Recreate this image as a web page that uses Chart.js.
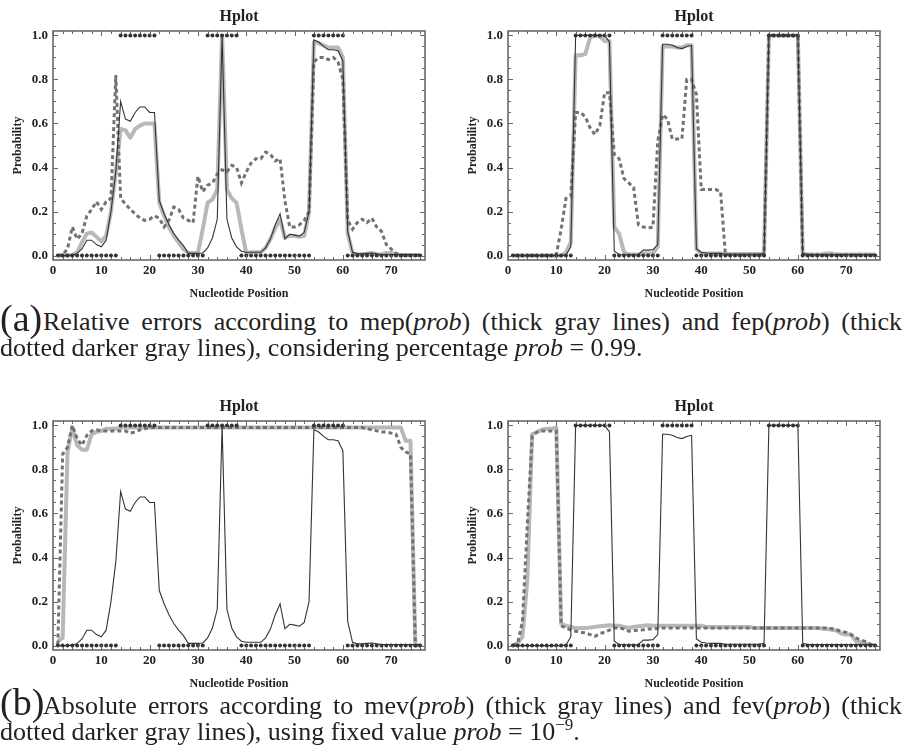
<!DOCTYPE html>
<html>
<head>
<meta charset="utf-8">
<script src="https://cdn.jsdelivr.net/npm/chart.js@4.4.0/dist/chart.umd.min.js"></script>
<style>
  html, body { margin:0; padding:0; background:#fff; width:904px; height:754px; overflow:hidden; }
  canvas { position:absolute; }
  .lab { position:absolute; font-family:'Liberation Serif', serif; font-size:38px; line-height:1; color:#222; white-space:nowrap; }
  .cap { position:absolute; font-family:'Liberation Serif', serif; font-size:26px; line-height:1; color:#222; }
  .j { text-align:justify; text-align-last:justify; }
  .cap sup { font-size:17px; vertical-align:10px; line-height:0; }
</style>
</head>
<body>
<canvas id="c1" width="450" height="305" style="left:0;top:0"></canvas>
<canvas id="c2" width="449" height="305" style="left:455px;top:0"></canvas>
<canvas id="c3" width="450" height="305" style="left:0;top:390px"></canvas>
<canvas id="c4" width="449" height="305" style="left:455px;top:390px"></canvas>

<div class="lab" style="left:0;top:299px">(a)</div>
<div class="cap j" style="left:43px;top:309px;width:859px">Relative errors according to mep(<i>prob</i>) (thick gray lines) and fep(<i>prob</i>) (thick</div>
<div class="cap" style="left:0;top:335px;white-space:nowrap">dotted darker gray lines), considering percentage <i>prob</i> = 0.99.</div>

<div class="lab" style="left:0;top:683px">(b)</div>
<div class="cap j" style="left:43px;top:693px;width:859px">Absolute errors according to mev(<i>prob</i>) (thick gray lines) and fev(<i>prob</i>) (thick</div>
<div class="cap" style="left:0;top:719px;white-space:nowrap">dotted darker gray lines), using fixed value <i>prob</i> = 10<sup>−9</sup>.</div>

<script>
// ---------- data ----------
const positions = [1,2,3,4,5,6,7,8,9,10,11,12,13,14,15,16,17,18,19,20,21,22,23,24,25,26,27,28,29,30,31,32,33,34,35,36,37,38,39,40,41,42,43,44,45,46,47,48,49,50,51,52,53,54,55,56,57,58,59,60,61,62,63,64,65,66,67,68,69,70,71,72,73,74,75,76];

// secondary structure indicator (dots at 0 or 1)
const structure = [0,0,0,0,0,0,0,0,0,0,0,0,0, 1,1,1,1,1,1,1,1, 0,0,0,0,0,0,0,0,0,0, 1,1,1,1,1,1,1, 0,0,0,0,0,0,0,0,0,0,0,0,0,0,0, 1,1,1,1,1,1,1, 0,0,0,0,0,0,0,0,0,0,0,0,0,0,0,0];

// thin black line, left column (a) and (b)
const probLeft = [0,0,0,0.002,0.01,0.03,0.07,0.07,0.05,0.04, 0.07,0.2,0.38,0.70,0.62,0.61,0.65,0.675,0.675,0.65, 0.65,0.25,0.19,0.14,0.1,0.07,0.045,0.01,0.01,0.01, 0.012,0.035,0.08,0.165,1.0,0.165,0.08,0.04,0.02,0.015, 0.015,0.015,0.015,0.035,0.075,0.14,0.19,0.077,0.097,0.093, 0.088,0.105,0.2,0.98,0.97,0.95,0.935,0.935,0.93,0.885, 0.11,0.015,0.008,0.008,0.01,0.012,0.008,0.005,0.005,0.005, 0.005,0.005,0.005,0.005,0.005,0.005];

// thin black line, right column (a) and (b)
const probRight = [0,0,0,0,0,0,0,0,0,0, 0,0.003,0.04,1.0,1.0,1.0,1.0,1.0,1.0,1.0, 0.97,0.02,0.005,0.004,0.004,0.004,0.005,0.025,0.025,0.027, 0.05,0.96,0.96,0.955,0.945,0.94,0.95,0.955,0.03,0.015, 0.012,0.01,0.01,0.01,0.006,0.006,0.006,0.006,0.006,0.006, 0.006,0.006,0.01,1.0,1.0,1.0,1.0,1.0,1.0,1.0, 0.01,0.005,0.005,0.005,0.005,0.005,0.005,0.005,0.005,0.005, 0.005,0.005,0.005,0.005,0.005,0.005];

// (a) left: mep (thick gray) and fep (dotted)
const mepLeft = [0,0,0,0.003,0.015,0.06,0.1,0.105,0.085,0.065, 0.09,0.2,0.38,0.575,0.57,0.535,0.575,0.59,0.6,0.6, 0.6,0.24,0.18,0.13,0.09,0.06,0.03,0.012,0.012,0.012, 0.12,0.24,0.255,0.3,1.0,0.3,0.26,0.24,0.12,0.012, 0.015,0.015,0.015,0.035,0.075,0.125,0.165,0.08,0.09,0.09, 0.085,0.09,0.2,0.97,0.965,0.955,0.945,0.945,0.945,0.9, 0.1,0.012,0.006,0.006,0.008,0.012,0.006,0.005,0.012,0.012, 0.006,0.003,0.003,0.003,0.003,0.003];
const fepLeft = [0,0.005,0.03,0.13,0.075,0.1,0.18,0.21,0.245,0.21, 0.245,0.26,0.82,0.26,0.235,0.21,0.19,0.17,0.16,0.165, 0.18,0.17,0.13,0.16,0.22,0.21,0.17,0.16,0.15,0.36, 0.29,0.32,0.33,0.37,0.39,0.38,0.41,0.4,0.33,0.38, 0.42,0.44,0.44,0.47,0.46,0.43,0.44,0.25,0.13,0.13, 0.14,0.16,0.2,0.88,0.9,0.9,0.89,0.9,0.88,0.8, 0.16,0.12,0.15,0.165,0.15,0.17,0.13,0.11,0.05,0.03, 0.01,0.003,0,0,0,0];

// (a) right
const mepRight = [0,0,0,0,0,0,0,0,0,0, 0,0.015,0.06,0.91,0.91,0.915,0.99,1.0,0.995,0.975, 0.975,0.13,0.1,0.015,0.005,0.005,0.005,0.01,0.01,0.01, 0.04,0.95,0.95,0.95,0.945,0.945,0.955,0.955,0.03,0.01, 0.01,0.01,0.01,0.01,0.007,0.007,0.007,0.007,0.007,0.007, 0.007,0.007,0.007,1.0,1.0,1.0,1.0,1.0,1.0,1.0, 0.01,0.005,0.005,0.005,0.005,0.01,0.01,0.005,0.005,0.005, 0.005,0.005,0.005,0.005,0.005,0.005];
const fepRight = [0,0,0,0,0,0,0,0,0,0.005, 0.12,0.26,0.27,0.65,0.65,0.63,0.58,0.55,0.59,0.74, 0.74,0.46,0.44,0.35,0.33,0.31,0.14,0.13,0.125,0.13, 0.52,0.64,0.62,0.53,0.53,0.53,0.8,0.8,0.73,0.3, 0.3,0.3,0.3,0.29,0.005,0.003,0.003,0.003,0.003,0.003, 0.003,0.003,0.003,1.0,1.0,1.0,1.0,1.0,1.0,1.0, 0.005,0.003,0.003,0.003,0.003,0.003,0.003,0.003,0.003,0.003, 0.003,0.003,0.003,0.003,0.003,0.003];

// (b) left: mev (thick gray) and fev (dotted)
const mevLeft = [0.02,0.035,0.88,0.99,0.91,0.89,0.89,0.96,0.97,0.975, 0.985,0.985,0.985,0.99,0.99,0.99,0.99,0.99,0.99,0.99, 0.99,0.99,0.99,0.99,0.99,0.99,0.99,0.99,0.99,0.99, 0.99,0.99,0.99,0.99,0.99,0.99,0.99,0.99,0.99,0.99, 0.99,0.99,0.99,0.99,0.99,0.99,0.99,0.99,0.99,0.99, 0.99,0.99,0.99,0.99,0.99,0.99,0.99,0.99,0.99,0.99, 0.99,0.99,0.99,0.99,0.99,0.99,0.99,0.99,0.99,0.99, 0.99,0.99,0.93,0.93,0,0];
const fevLeft = [0.005,0.87,0.9,1.0,0.94,0.91,0.955,0.975,0.98,0.975, 0.975,0.975,0.975,0.975,0.975,0.965,0.97,0.98,0.985,0.99, 0.99,0.99,0.99,0.99,0.99,0.99,0.99,0.99,0.99,0.99, 0.99,0.99,0.99,0.99,0.99,0.99,0.99,0.99,0.99,0.99, 0.99,0.99,0.99,0.99,0.99,0.99,0.99,0.99,0.99,0.99, 0.99,0.99,0.99,0.99,0.99,0.99,0.99,0.99,0.99,0.99, 0.99,0.99,0.99,0.99,0.985,0.98,0.975,0.97,0.97,0.965, 0.96,0.9,0.88,0.87,0,0];

// (b) right
const mevRight = [0,0.01,0.04,0.3,0.96,0.97,0.98,0.985,0.985,0.99, 0.1,0.09,0.085,0.08,0.08,0.08,0.082,0.085,0.088,0.09, 0.092,0.09,0.09,0.085,0.08,0.085,0.088,0.09,0.092,0.09, 0.09,0.09,0.09,0.09,0.09,0.09,0.09,0.09,0.09,0.09, 0.085,0.085,0.085,0.085,0.085,0.085,0.085,0.085,0.085,0.085, 0.08,0.08,0.08,0.08,0.08,0.08,0.08,0.08,0.08,0.08, 0.08,0.08,0.08,0.08,0.078,0.075,0.072,0.068,0.055,0.05, 0.05,0.02,0.015,0.01,0.005,0];
const fevRight = [0,0.01,0.11,0.55,0.95,0.97,0.975,0.975,0.975,0.975, 0.09,0.08,0.07,0.065,0.06,0.058,0.05,0.042,0.055,0.06, 0.07,0.08,0.08,0.075,0.065,0.068,0.07,0.072,0.075,0.075, 0.078,0.08,0.08,0.08,0.08,0.08,0.08,0.08,0.08,0.08, 0.08,0.08,0.08,0.08,0.08,0.08,0.08,0.08,0.08,0.08, 0.08,0.08,0.08,0.08,0.08,0.08,0.08,0.08,0.08,0.08, 0.08,0.08,0.08,0.08,0.08,0.08,0.077,0.072,0.065,0.06, 0.05,0.035,0.025,0.018,0.005,0];

// tick labels
const xTickValues = [0,10,20,30,40,50,60,70];
const xTickLabels = ['0','10','20','30','40','50','60','70'];
const yTickValues = [0,0.2,0.4,0.6,0.8,1.0];
const yTickLabels = ['0.0','0.2','0.4','0.6','0.8','1.0'];

const chartTitle = 'Hplot';
const xTitle = 'Nucleotide Position';
const yTitle = 'Probability';

// ---------- rendering ----------
Chart.defaults.font.family = "'Liberation Serif', serif";
Chart.defaults.color = '#222';

const pts = arr => positions.map((p, i) => ({x: p, y: arr[i]}));

const framePlugin = {
  id: 'frame',
  afterDraw(chart) {
    const {ctx, chartArea: a, scales: {x, y}} = chart;
    ctx.save();
    ctx.strokeStyle = '#666';
    ctx.lineWidth = 1;
    for (let v = 0; v <= 76; v += 2) {
      const px = Math.round(x.getPixelForValue(v)) + 0.5;
      const len = (v % 10 === 0) ? 5 : 3;
      ctx.beginPath();
      ctx.moveTo(px, a.bottom); ctx.lineTo(px, a.bottom - len);
      ctx.moveTo(px, a.top); ctx.lineTo(px, a.top + len);
      ctx.stroke();
    }
    for (let k = 0; k <= 20; k++) {
      const v = k * 0.05;
      const py = Math.round(y.getPixelForValue(v)) + 0.5;
      const len = (k % 4 === 0) ? 5 : 3;
      ctx.beginPath();
      ctx.moveTo(a.left, py); ctx.lineTo(a.left + len, py);
      ctx.moveTo(a.right, py); ctx.lineTo(a.right - len, py);
      ctx.stroke();
    }
    ctx.strokeStyle = '#6a6a6a';
    ctx.lineWidth = 1.6;
    ctx.strokeRect(a.left, a.top, a.right - a.left, a.bottom - a.top);
    ctx.restore();
  }
};

function makeChart(id, thin, gray, dotted, rightPad) {
  return new Chart(document.getElementById(id), {
    type: 'line',
    data: {
      datasets: [
        { data: pts(structure), showLine: false, pointRadius: 2, pointBackgroundColor: '#333',
          pointBorderWidth: 0, borderColor: '#333', order: 0 },
        { data: pts(thin), borderColor: '#333', borderWidth: 1.1, pointRadius: 0, tension: 0, order: 1 },
        { data: pts(dotted), borderColor: '#727272', borderWidth: 3, borderDash: [4, 3], pointRadius: 0,
          tension: 0, order: 2 },
        { data: pts(gray), borderColor: '#b8b8b8', borderWidth: 4, pointRadius: 0, tension: 0,
          borderJoinStyle: 'round', order: 3 }
      ]
    },
    options: {
      responsive: false,
      animation: false,
      devicePixelRatio: 1,
      events: [],
      layout: { padding: { left: 0, right: rightPad, top: 0, bottom: 0 } },
      plugins: {
        legend: { display: false },
        tooltip: { enabled: false },
        title: {
          display: true, text: chartTitle, fullSize: false, color: '#222',
          font: { size: 16, weight: 'bold' }, padding: { top: 7, bottom: 4.8 }
        }
      },
      scales: {
        x: {
          type: 'linear', position: 'bottom', min: 0, max: 77,
          grid: { display: false, drawTicks: false },
          border: { display: false },
          afterBuildTicks: s => { s.ticks = xTickValues.map(v => ({ value: v })); },
          ticks: {
            padding: 3, color: '#222', font: { size: 13, weight: 'bold' }, maxRotation: 0, autoSkip: false,
            callback: v => xTickLabels[xTickValues.indexOf(v)]
          },
          title: { display: true, text: xTitle, color: '#222', font: { size: 12, weight: 'bold' },
                   padding: { top: 0, bottom: 4 } },
          afterFit: s => { s.height = 45; }
        },
        y: {
          type: 'linear', position: 'left', min: -0.02, max: 1.02,
          grid: { display: false, drawTicks: false },
          border: { display: false },
          afterBuildTicks: s => { s.ticks = yTickValues.map(v => ({ value: v })); },
          ticks: {
            padding: 5, color: '#222', font: { size: 13, weight: 'bold' }, autoSkip: false,
            callback: v => yTickLabels[yTickValues.indexOf(v)]
          },
          title: { display: true, text: yTitle, color: '#222', font: { size: 12, weight: 'bold' },
                   padding: { top: 11, bottom: 0 } },
          afterFit: s => { s.width = 53; }
        }
      }
    },
    plugins: [framePlugin]
  });
}

makeChart('c1', probLeft, mepLeft, fepLeft, 25);
makeChart('c2', probRight, mepRight, fepRight, 24);
makeChart('c3', probLeft, mevLeft, fevLeft, 25);
makeChart('c4', probRight, mevRight, fevRight, 24);
</script>
</body>
</html>
